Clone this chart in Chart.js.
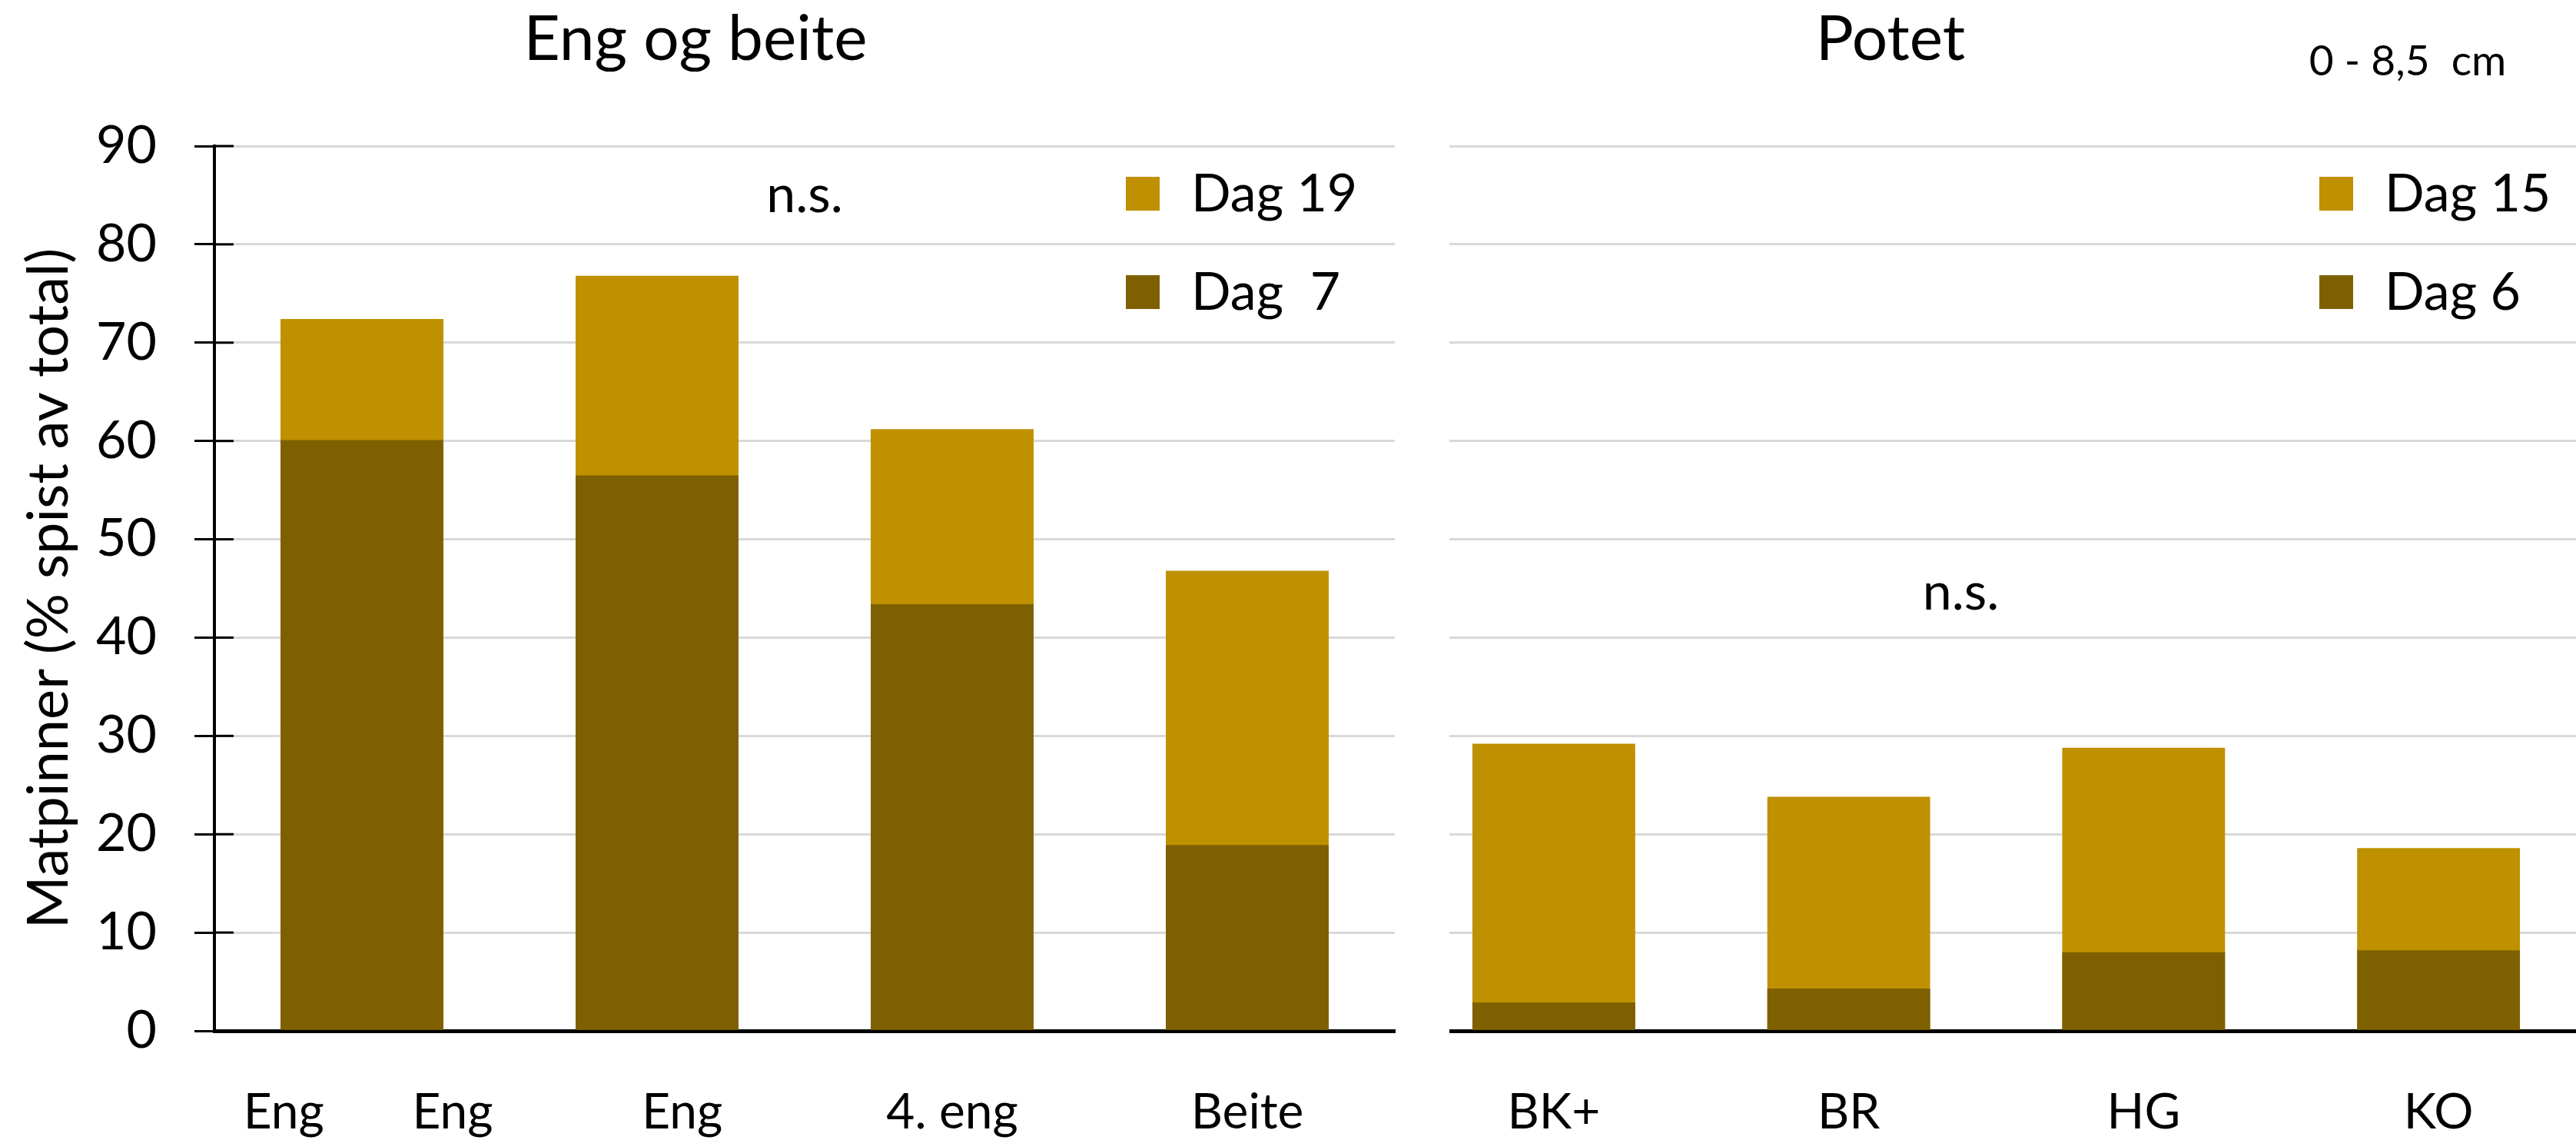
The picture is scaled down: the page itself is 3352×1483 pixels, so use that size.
<!DOCTYPE html>
<html lang="no">
<head>
<meta charset="UTF-8">
<title>Matpinner spist</title>
<script src="https://cdn.jsdelivr.net/npm/chart.js@4.4.0/dist/chart.umd.min.js"></script>
<style>
  html, body { margin: 0; padding: 0; background: #fff; overflow: hidden; }
  body { width: 3352px; height: 1483px; position: relative; }
  /* left panel sits on top and its white background hides the start of the right panel */
  #grass { position: absolute; left: 0; top: 0; background: #fff; z-index: 2; }
  #potato { position: absolute; left: 1830px; top: 0; z-index: 1; }
</style>
</head>
<body>
<canvas id="grass" width="1886" height="1483"></canvas>
<canvas id="potato" width="1535" height="1483"></canvas>

<script>
// Eng og beite
const grassLabels = [' Eng       Eng', '    Eng', '4. eng', 'Beite'];
const grassDay7 = [60.1, 56.5, 43.4, 18.9];
const grassDay19 = [72.4, 76.8, 61.2, 46.8];

// Potet
const potatoLabels = ['BK+', 'BR', 'HG', 'KO'];
const potatoDay6 = [2.9, 4.3, 8.0, 8.2];
const potatoDay15 = [29.2, 23.8, 28.8, 18.6];

const seriesGrass = ['Dag  7', 'Dag 19'];
const seriesPotato = ['Dag 6', 'Dag 15'];
const yMax = 90;
const yStep = 10;

const DARK = '#7F6000';
const LIGHT = '#BF9000';

Chart.defaults.font.family = 'Lato';
Chart.defaults.color = '#000';

// headings, n.s. notes, legend boxes and the short inner axis ticks
const panelDecor = {
  id: 'panelDecor',
  afterDatasetsDraw(chart, args, o) {
    const {ctx, chartArea, scales} = chart;
    ctx.save();
    ctx.fillStyle = '#000';
    ctx.textAlign = 'center';
    ctx.textBaseline = 'alphabetic';
    ctx.font = '82px Lato';
    ctx.fillText(o.heading, o.headingX, 78);

    if (o.depth) {
      ctx.font = '55px Lato';
      ctx.fillText(o.depth, o.depthX, 98);
    }

    ctx.font = '68px Lato';
    ctx.textBaseline = 'middle';
    ctx.fillText('n.s.', scales.x.getPixelForValue(o.nsAt[0]), scales.y.getPixelForValue(o.nsAt[1]));

    // legend: later dataset listed first
    ctx.textAlign = 'left';
    ctx.textBaseline = 'alphabetic';
    ctx.font = '68px Lato';
    const ds = chart.data.datasets.slice().reverse();
    ds.forEach((d, i) => {
      const cy = o.legendY + i * 128;
      ctx.fillStyle = d.backgroundColor;
      ctx.fillRect(o.legendX, cy - 22, 44, 44);
      ctx.fillStyle = '#000';
      ctx.fillText(d.label, o.legendX + 85, cy + 23);
    });

    if (o.innerTicks) {
      ctx.strokeStyle = '#000';
      ctx.lineWidth = 3;
      scales.y.ticks.forEach(t => {
        const y = scales.y.getPixelForValue(t.value);
        ctx.beginPath();
        ctx.moveTo(chartArea.left, y);
        ctx.lineTo(chartArea.left + 25, y);
        ctx.stroke();
      });
    }
    ctx.restore();
  }
};

function barSet(label, data, color) {
  return {
    label: label,
    data: data,
    backgroundColor: color,
    borderWidth: 0,
    grouped: false,
    barPercentage: 0.552,
    categoryPercentage: 1
  };
}

new Chart(document.getElementById('grass'), {
  type: 'bar',
  data: {
    labels: grassLabels,
    datasets: [
      barSet(seriesGrass[0], grassDay7, DARK),
      barSet(seriesGrass[1], grassDay19, LIGHT)
    ]
  },
  options: {
    responsive: false,
    animation: false,
    devicePixelRatio: 1,
    layout: { padding: { top: 190, right: 71, left: 0, bottom: 0 } },
    plugins: {
      legend: { display: false },
      tooltip: { enabled: false },
      panelDecor: {
        heading: 'Eng og beite', headingX: 905,
        nsAt: [1.5, 85],
        legendX: 1465, legendY: 252,
        innerTicks: true
      }
    },
    scales: {
      x: {
        grid: { display: false },
        border: { display: true, color: '#000', width: 5 },
        ticks: { font: { size: 64 }, padding: 60, maxRotation: 0, autoSkip: false },
        afterFit: s => { s.height = 142; }
      },
      y: {
        min: 0, max: yMax,
        ticks: { stepSize: yStep, font: { size: 68 }, padding: 49 },
        grid: { color: '#D9D9D9', lineWidth: 3, tickLength: 26, tickColor: '#000', tickWidth: 3 },
        border: { display: true, color: '#000', width: 4 },
        title: {
          display: true,
          text: 'Matpinner (% spist av total)',
          font: { size: 74 },
          padding: { top: 20, bottom: 0 }
        },
        afterFit: s => { s.width = 279; }
      }
    }
  },
  plugins: [panelDecor]
});

new Chart(document.getElementById('potato'), {
  type: 'bar',
  data: {
    labels: potatoLabels,
    datasets: [
      barSet(seriesPotato[0], potatoDay6, DARK),
      barSet(seriesPotato[1], potatoDay15, LIGHT)
    ]
  },
  options: {
    responsive: false,
    animation: false,
    devicePixelRatio: 1,
    layout: { padding: { top: 190, right: 0, left: 0, bottom: 0 } },
    plugins: {
      legend: { display: false },
      tooltip: { enabled: false },
      panelDecor: {
        heading: 'Potet', headingX: 630,
        depth: '0 - 8,5  cm', depthX: 1303,
        nsAt: [1.38, 44.6],
        legendX: 1188, legendY: 252,
        innerTicks: false
      }
    },
    scales: {
      x: {
        grid: { display: false },
        border: { display: true, color: '#000', width: 5 },
        ticks: { font: { size: 64 }, padding: 60, maxRotation: 0, autoSkip: false },
        afterFit: s => { s.height = 142; }
      },
      y: {
        min: 0, max: yMax,
        ticks: { stepSize: yStep, display: false },
        grid: { color: '#D9D9D9', lineWidth: 3, drawTicks: false },
        border: { display: false },
        afterFit: s => { s.width = 0; }
      }
    }
  },
  plugins: [panelDecor]
});
</script>
</body>
</html>
